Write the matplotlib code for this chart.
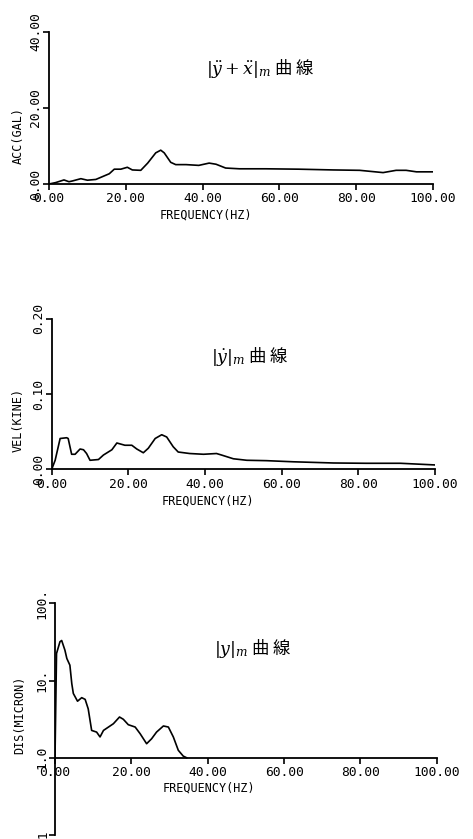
import matplotlib
matplotlib.use("Agg")
import matplotlib.pyplot as plt
from matplotlib.ticker import FixedLocator, FixedFormatter

plt.rcParams['mathtext.fontset'] = 'dejavuserif'

# ---- data ----
acc_freq = [0, 1.7, 3.9, 5.2, 6.1, 8.3, 10, 12.2, 15.7, 17, 18.7, 20.4, 21.7, 23.9, 25.7,
            27.8, 29.1, 30, 31.7, 33, 35.7, 39, 41.7, 43.5, 46, 49.6, 56.5, 65, 74,
            80.9, 87, 90.4, 93, 95.7, 100]
acc_vals = [0, 0.36, 1.07, 0.6, 0.8, 1.4, 1.0, 1.2, 2.7, 3.9, 3.9, 4.4, 3.7, 3.6, 5.5,
            8.2, 8.9, 8.2, 5.7, 5.1, 5.1, 4.9, 5.5, 5.2, 4.2, 4.0, 4.0, 3.9, 3.7,
            3.6, 3.0, 3.6, 3.6, 3.2, 3.2]

vel_freq = [0, 0.9, 2.2, 3.9, 4.3, 5.2, 6.1, 7.4, 8.3, 9.1, 10, 12.2, 13.5, 15.7, 17,
            19.1, 20.9, 22.2, 23.9, 25.2, 27, 28.7, 30, 31.7, 33, 36, 39.6, 43, 44.3,
            47.4, 50.9, 56, 63, 73.5, 82, 91, 100]
vel_vals = [0, 0.012, 0.041, 0.042, 0.041, 0.020, 0.020, 0.027, 0.026, 0.021, 0.012,
            0.013, 0.019, 0.026, 0.035, 0.032, 0.032, 0.027, 0.022, 0.028, 0.041, 0.046,
            0.043, 0.030, 0.023, 0.021, 0.020, 0.021, 0.019, 0.014, 0.012, 0.0115,
            0.010, 0.0084, 0.008, 0.008, 0.0058]

dis_freq = [0, 0.4, 1.3, 1.75, 2.6, 3.1, 3.9, 4.4, 4.8, 5.9, 7.0, 7.9, 8.7, 9.6, 10.9,
            11.8, 12.7, 15.3, 16.9, 17.9, 19.2, 21, 22.3, 24, 25.3, 26.6, 28.4, 29.7,
            31, 32.3, 33.6, 34.5]
dis_vals = [1.0, 22.4, 31.8, 33, 24.7, 19.3, 15.8, 9.1, 6.8, 5.4, 6.0, 5.7, 4.3, 2.26,
            2.15, 1.86, 2.26, 2.76, 3.37, 3.15, 2.68, 2.5, 2.05, 1.52, 1.76, 2.15, 2.58,
            2.5, 1.86, 1.25, 1.05, 1.0]

freq_ticks = [0, 20, 40, 60, 80, 100]
freq_labels = ["0.00", "20.00", "40.00", "60.00", "80.00", "100.00"]
acc_ticks = [0, 20, 40]
acc_labels = ["0.00", "20.00", "40.00"]
vel_ticks = [0, 0.1, 0.2]
vel_labels = ["0.00", "0.10", "0.20"]
dis_ticks = [0.1, 1, 10, 100]
dis_labels = [".1", "1.0", "10.", "100."]

titles = [r"$|\ddot{y}+\ddot{x}|_m$ 曲 線", r"$|\dot{y}|_m$ 曲 線", r"$|y|_m$ 曲 線"]
ylabels = ["ACC(GAL)", "VEL(KINE)", "DIS(MICRON)"]
xlabel = "FREQUENCY(HZ)"

MONO = "DejaVu Sans Mono"
TFS = 9.3

fig = plt.figure(figsize=(4.73, 8.39), dpi=100)
fig.patch.set_facecolor("white")

axes_rects = [
    [49/473, 1-184/839, 384/473, 152/839],
    [51.7/473, 1-469.3/839, 383.3/473, 150.3/839],
    [55/473, 1-835/839, 381.7/473, 231.7/839],
]

def style(ax):
    for s in ['top', 'right']:
        ax.spines[s].set_visible(False)
    for s in ['left', 'bottom']:
        ax.spines[s].set_linewidth(1.3)
    ax.tick_params(direction='out', length=4, width=1.2, pad=2)
    ax.tick_params(axis='y', pad=1)
    ax.set_facecolor("none")

def settick(ax, xt, xl, yt, yl):
    ax.xaxis.set_major_locator(FixedLocator(xt))
    ax.xaxis.set_major_formatter(FixedFormatter(xl))
    ax.yaxis.set_major_locator(FixedLocator(yt))
    ax.yaxis.set_major_formatter(FixedFormatter(yl))
    ax.xaxis.set_minor_locator(FixedLocator([]))
    ax.yaxis.set_minor_locator(FixedLocator([]))
    for t in ax.get_xticklabels():
        t.set_fontfamily(MONO); t.set_fontsize(TFS)
    for t in ax.get_yticklabels():
        t.set_fontfamily(MONO); t.set_fontsize(TFS)
        t.set_rotation(90); t.set_va('center')

# Panel 1
ax1 = fig.add_axes(axes_rects[0])
ax1.plot(acc_freq, acc_vals, color='black', lw=1.2)
ax1.set_xlim(0, 100); ax1.set_ylim(0, 40)
style(ax1)
settick(ax1, freq_ticks, freq_labels, acc_ticks, acc_labels)

# Panel 2
ax2 = fig.add_axes(axes_rects[1])
ax2.plot(vel_freq, vel_vals, color='black', lw=1.2)
ax2.set_xlim(0, 100); ax2.set_ylim(0, 0.2)
style(ax2)
settick(ax2, freq_ticks, freq_labels, vel_ticks, vel_labels)

# Panel 3
ax3 = fig.add_axes(axes_rects[2])
ax3.plot(dis_freq, dis_vals, color='black', lw=1.2)
ax3.set_yscale('log')
ax3.set_xlim(0, 100); ax3.set_ylim(0.1, 100)
style(ax3)
ax3.spines['bottom'].set_position(('data', 1.0))
settick(ax3, freq_ticks, freq_labels, dis_ticks, dis_labels)

for ax, ttl, yl, tpos, xlpos, ylpos in zip(
        [ax1, ax2, ax3], titles, ylabels,
        [(260, 68), (250, 357), (253, 648)],
        [(206, 215), (208, 501), (209, 788)],
        [(18, 135), (18, 420), (20, 715)]):
    fig.text(tpos[0]/473, 1-tpos[1]/839, ttl, ha='center', va='center',
             fontsize=12.5, family=['Noto Sans CJK JP', 'DejaVu Sans'])
    fig.text(xlpos[0]/473, 1-xlpos[1]/839, xlabel, ha='center', va='center',
             fontsize=8.5, family=MONO)
    fig.text(ylpos[0]/473, 1-ylpos[1]/839, yl, ha='center', va='center',
             fontsize=8.5, family=MONO, rotation=90)

fig.savefig("out.png", dpi=100, facecolor="white")
